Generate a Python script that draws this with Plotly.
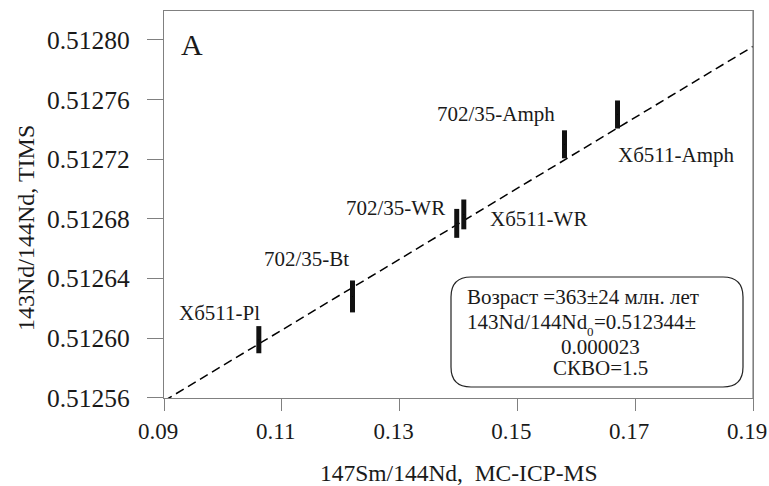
import numpy as np
import plotly.graph_objects as go

# ---- data ----
samples = ["Хб511-Pl", "702/35-Bt", "702/35-WR", "Хб511-WR", "702/35-Amph", "Хб511-Amph"]
sm_nd = [0.1061, 0.1220, 0.1397, 0.1409, 0.1580, 0.1670]
nd_nd = [0.512599, 0.512628, 0.512677, 0.512683, 0.512730, 0.512750]
nd_err = [0.0000091, 0.0000107, 0.0000097, 0.0000100, 0.0000094, 0.0000094]

age_ma = 363
age_err = 24
nd0 = 0.512344
nd0_err = 0.000023
mswd = 1.5
lam = 6.54e-12
slope = np.exp(lam * age_ma * 1e6) - 1
line_x = [0.09, 0.19]
line_y = [nd0 + slope * v for v in line_x]

x_ticks = [0.09, 0.11, 0.13, 0.15, 0.17, 0.19]
y_ticks = [0.51256, 0.51260, 0.51264, 0.51268, 0.51272, 0.51276, 0.51280]

# label placement (style): anchor, xshift, yshift in px
label_style = [
    ("right", 3, 27),
    ("right", -1, 37),
    ("right", -10, 15),
    ("left", 24, -5),
    ("right", -8, 30),
    ("left", -2, -40),
]

FONT = "Liberation Serif, Times New Roman, serif"
TXT = "#1a1a1a"
AX = "#808080"

fig = go.Figure()
fig.add_trace(go.Scatter(x=line_x, y=line_y, mode="lines",
                         line=dict(color="black", width=1.5, dash="9px,5px"),
                         hoverinfo="skip", showlegend=False))
fig.add_trace(go.Scatter(x=sm_nd, y=nd_nd, mode="markers",
                         marker=dict(size=1, color="black"),
                         error_y=dict(type="data", array=nd_err, visible=True,
                                      thickness=5, width=0, color="#111"),
                         showlegend=False))

for s, xv, yv, (anc, dx, dy) in zip(samples, sm_nd, nd_nd, label_style):
    fig.add_annotation(x=xv, y=yv, text=s, showarrow=False, xanchor=anc,
                       yanchor="middle", xshift=dx, yshift=dy,
                       font=dict(family=FONT, size=21, color=TXT))

# plot area in px: x 164..753, y 11..398
def px(xp):
    return (xp - 164) / 589.0
def py(yp):
    return (398 - yp) / 387.0

fig.add_shape(type="line", xref="paper", yref="paper", x0=1, x1=1, y0=0, y1=1,
              line=dict(color=AX, width=1.2))

# Panel letter
fig.add_annotation(x=px(179), y=py(44), xref="paper", yref="paper", text="A",
                   showarrow=False, xanchor="left", yanchor="middle",
                   font=dict(family=FONT, size=30, color=TXT))

x0, x1, y0, y1, r = 451, 743, 277, 387, 20
path = (f"M {px(x0 + r)},{py(y0)} L {px(x1 - r)},{py(y0)} "
        f"Q {px(x1)},{py(y0)} {px(x1)},{py(y0 + r)} "
        f"L {px(x1)},{py(y1 - r)} Q {px(x1)},{py(y1)} {px(x1 - r)},{py(y1)} "
        f"L {px(x0 + r)},{py(y1)} Q {px(x0)},{py(y1)} {px(x0)},{py(y1 - r)} "
        f"L {px(x0)},{py(y0 + r)} Q {px(x0)},{py(y0)} {px(x0 + r)},{py(y0)} Z")
fig.add_shape(type="path", path=path, xref="paper", yref="paper",
              line=dict(color="#222", width=1.2), fillcolor="white", layer="above")

box_font = dict(family=FONT, size=21, color=TXT)
fig.add_annotation(x=px(465), y=py(297), xref="paper", yref="paper",
                   text=f"Возраст ={age_ma}±{age_err} млн. лет", showarrow=False,
                   xanchor="left", yanchor="middle", font=box_font)
fig.add_annotation(x=px(465), y=py(322), xref="paper", yref="paper",
                   text="143Nd/144Nd", showarrow=False,
                   xanchor="left", yanchor="middle", font=box_font)
fig.add_annotation(x=px(698), y=py(322), xref="paper", yref="paper",
                   text=f"={nd0:.6f}±", showarrow=False,
                   xanchor="right", yanchor="middle", font=box_font)
fig.add_annotation(x=px(590), y=py(331), xref="paper", yref="paper",
                   text="0", showarrow=False,
                   xanchor="center", yanchor="middle",
                   font=dict(family=FONT, size=13, color=TXT))
fig.add_annotation(x=px(600), y=py(347), xref="paper", yref="paper",
                   text=f"{nd0_err:.6f}", showarrow=False,
                   xanchor="center", yanchor="middle", font=box_font)
fig.add_annotation(x=px(600), y=py(368), xref="paper", yref="paper",
                   text=f"СКВО={mswd}", showarrow=False,
                   xanchor="center", yanchor="middle", font=box_font)

# axis titles
fig.add_annotation(x=px(458), y=py(473), xref="paper", yref="paper",
                   text="147Sm/144Nd,  MC-ICP-MS", showarrow=False,
                   xanchor="center", yanchor="middle",
                   font=dict(family=FONT, size=23.5, color=TXT))
fig.add_annotation(x=px(26), y=py(228), xref="paper", yref="paper",
                   text="143Nd/144Nd, TIMS", showarrow=False, textangle=-90,
                   xanchor="center", yanchor="middle",
                   font=dict(family=FONT, size=24, color=TXT))

fig.update_xaxes(range=[0.09, 0.19], tickvals=x_ticks,
                 ticktext=[f"{v:.2f}" for v in x_ticks],
                 showgrid=False, zeroline=False, showline=True, mirror=True,
                 linecolor=AX, linewidth=1.2, ticks="outside", ticklen=12,
                 tickcolor=AX, tickwidth=1.2, ticklabeloverflow="allow",
                 ticklabelshift=-6, automargin=False,
                 tickfont=dict(family=FONT, size=23, color=TXT))
fig.update_yaxes(range=[0.5125599, 0.5128194], tickvals=y_ticks,
                 ticktext=[f"{v:.5f}" for v in y_ticks],
                 showgrid=False, zeroline=False, showline=True, mirror=True,
                 linecolor=AX, linewidth=1.2, ticks="outside", ticklen=16,
                 tickcolor=AX, tickwidth=1.2, ticklabelstandoff=12,
                 automargin=False,
                 tickfont=dict(family=FONT, size=25.5, color=TXT))

fig.update_layout(width=769, height=486, margin=dict(l=164, r=16, t=11, b=88),
                  plot_bgcolor="white", paper_bgcolor="white", showlegend=False)

fig.write_html("out.html", config={"displayModeBar": False},
               post_script="document.body.style.margin='0';document.body.style.overflow='hidden';")
